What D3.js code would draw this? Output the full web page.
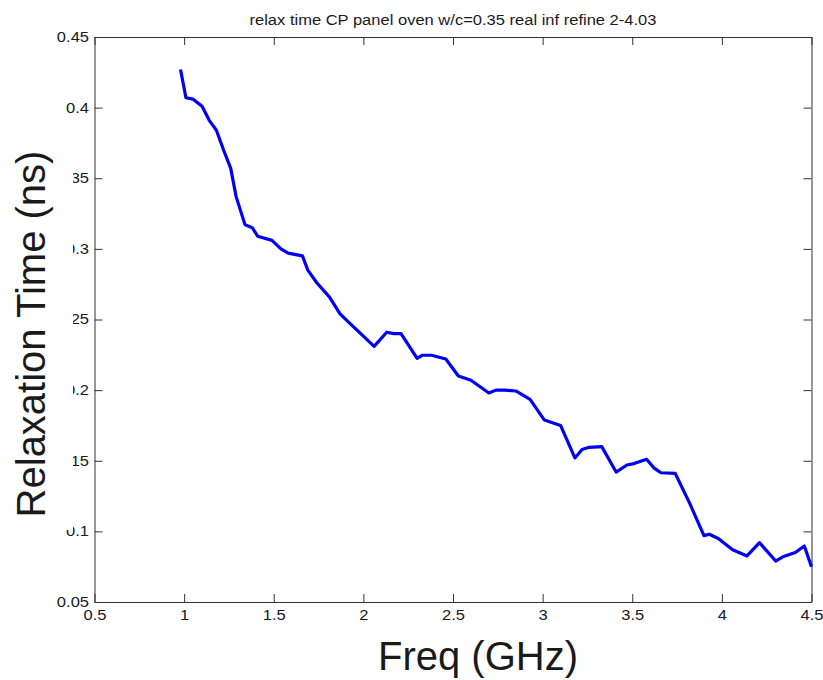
<!DOCTYPE html>
<html>
<head>
<meta charset="utf-8">
<script src="https://cdn.jsdelivr.net/npm/d3@7"></script>
<style>
  body { margin: 0; background: #fff; }
  text { font-family: 'Liberation Sans', Arial, sans-serif; fill: #1a1a1a; }
  .axis path, .axis line { stroke: #333; }
</style>
</head>
<body>
<svg id="chart"></svg>
<script>
// relaxation time vs frequency
const freq = [0.98, 1.01, 1.05, 1.10, 1.14, 1.18, 1.22, 1.26, 1.29, 1.34, 1.38, 1.41,
  1.49, 1.54, 1.58, 1.66, 1.69, 1.74, 1.81, 1.87, 1.91, 1.96, 2.06, 2.13, 2.17, 2.21,
  2.30, 2.33, 2.38, 2.46, 2.53, 2.60, 2.70, 2.74, 2.79, 2.85, 2.93, 3.01, 3.10, 3.18,
  3.22, 3.26, 3.33, 3.41, 3.47, 3.51, 3.58, 3.62, 3.66, 3.74, 3.82, 3.90, 3.93, 3.98,
  4.06, 4.14, 4.21, 4.30, 4.34, 4.41, 4.46, 4.50]
const tau = [0.427, 0.407, 0.406, 0.401, 0.391, 0.384, 0.370, 0.357, 0.337, 0.317, 0.315, 0.309,
  0.306, 0.300, 0.297, 0.295, 0.285, 0.276, 0.266, 0.254, 0.249, 0.243, 0.231, 0.241, 0.240, 0.240,
  0.2225, 0.2247, 0.2247, 0.222, 0.210, 0.207, 0.198, 0.200, 0.200, 0.1994, 0.1935, 0.1788, 0.175, 0.152,
  0.158, 0.1595, 0.160, 0.142, 0.147, 0.148, 0.151, 0.145, 0.1415, 0.141, 0.120, 0.097, 0.098, 0.095,
  0.087, 0.0826, 0.092, 0.079, 0.082, 0.085, 0.0896, 0.075]
const xTicks = [0.5, 1, 1.5, 2, 2.5, 3, 3.5, 4, 4.5]
const yTicks = [0.05, 0.1, 0.15, 0.2, 0.25, 0.3, 0.35, 0.4, 0.45]
const title = 'relax time CP panel oven w/c=0.35 real inf refine 2-4.03'
const xLabel = 'Freq (GHz)'
const yLabel = 'Relaxation Time (ns)'

const width = 823
const height = 680
const margin = { top: 37, right: 11.5, bottom: 78, left: 94.5 }
const w = width - margin.left - margin.right
const h = height - margin.top - margin.bottom
// the small text in the original is wider than Arial at the same height
const widen = 1.18

const svg = d3.select('#chart')
  .attr('width', width)
  .attr('height', height)

const chart = svg.append('g')
  .attr('transform', `translate(${margin.left}, ${margin.top})`)

const xScale = d3.scaleLinear().domain([0.5, 4.5]).range([0, w])
const yScale = d3.scaleLinear().domain([0.05, 0.45]).range([h, 0])

const fmt = d => String(+d.toFixed(2))

function stretch(sel, k) {
  sel.each(function() {
    const len = this.getComputedTextLength()
    d3.select(this)
      .attr('textLength', len * k)
      .attr('lengthAdjust', 'spacingAndGlyphs')
  })
}

// bottom and left axes carry labels, top and right only ticks (box on)
chart.append('g')
  .attr('class', 'x axis')
  .attr('transform', `translate(0, ${h})`)
  .call(d3.axisBottom(xScale).tickValues(xTicks).tickFormat(fmt)
    .tickSize(-8).tickSizeOuter(0).tickPadding(8))

chart.append('g')
  .attr('class', 'x axis top')
  .call(d3.axisTop(xScale).tickValues(xTicks).tickFormat('')
    .tickSize(-8).tickSizeOuter(0))

chart.append('g')
  .attr('class', 'y axis')
  .call(d3.axisLeft(yScale).tickValues(yTicks).tickFormat(fmt)
    .tickSize(-8).tickSizeOuter(0).tickPadding(5.5))

chart.append('g')
  .attr('class', 'y axis right')
  .attr('transform', `translate(${w}, 0)`)
  .call(d3.axisRight(yScale).tickValues(yTicks).tickFormat('')
    .tickSize(-8).tickSizeOuter(0))

chart.selectAll('.axis text')
  .attr('font-size', 14)
  .attr('font-family', "'Liberation Sans', Arial, sans-serif")
  .attr('fill', '#1a1a1a')
  .call(stretch, widen)

chart.selectAll('.axis .tick line').attr('stroke', '#333')

const line = d3.line()
  .x((d, i) => xScale(freq[i]))
  .y(d => yScale(d))

chart.append('path')
  .datum(tau)
  .attr('class', 'line')
  .attr('fill', 'none')
  .attr('stroke', '#0000f2')
  .attr('stroke-width', 3.2)
  .attr('stroke-linejoin', 'round')
  .attr('d', line)

// title
svg.append('text')
  .attr('x', margin.left + w / 2)
  .attr('y', 25)
  .attr('text-anchor', 'middle')
  .attr('font-size', 14)
  .text(title)
  .call(stretch, widen)

// x label
svg.append('text')
  .attr('x', 478)
  .attr('y', 670)
  .attr('text-anchor', 'middle')
  .attr('font-size', 40)
  .text(xLabel)

// y label sits on a white box that hides part of the tick labels
svg.append('rect')
  .attr('x', 0)
  .attr('y', 140)
  .attr('width', 73)
  .attr('height', 390)
  .attr('fill', '#fff')

svg.append('text')
  .attr('transform', 'translate(45, 334) rotate(-90)')
  .attr('text-anchor', 'middle')
  .attr('font-size', 40)
  .text(yLabel)
</script>
</body>
</html>
